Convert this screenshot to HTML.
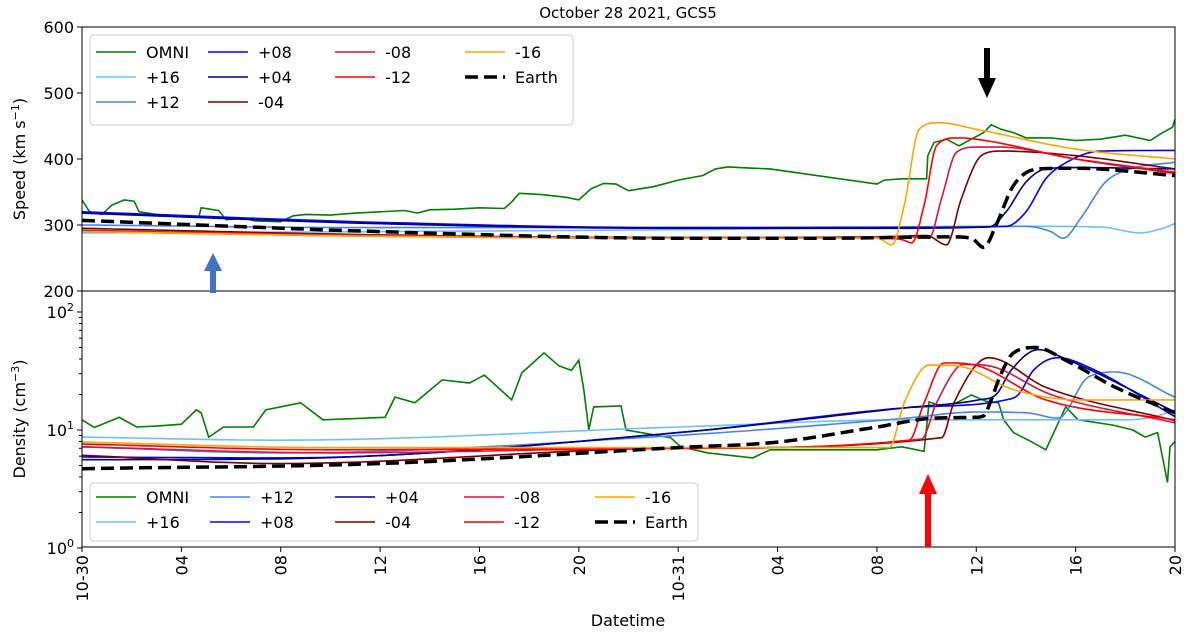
<!DOCTYPE html>
<html><head><meta charset="utf-8"><style>
body{margin:0;background:#fff;}
svg{display:block;font-family:"DejaVu Sans","Liberation Sans",sans-serif;}
</style></head><body>
<svg id="c" width="1200" height="641" viewBox="0 0 1200 641"></svg>
<script>
// ---- data: hours since 10-30 00:00 ----
const xTickHours=[0,4,8,12,16,20,24,28,32,36,40,44];
const xTickLabels=["10-30","04","08","12","16","20","10-31","04","08","12","16","20"];
const spdTicks=[200,300,400,500,600];
const denTicks=[0,1,2];
const seriesNames=["OMNI","+16","+12","+08","+04","-04","-08","-12","-16","Earth"];
// speed
const spd_t_omni=[0,0.3,0.8,1.2,1.7,2.1,2.3,3,4,4.7,4.8,5.5,5.8,6.5,7,8,8.5,9,10,11,12,13,13.5,14,15,16,17,17.3,17.6,18.5,19.5,20,20.5,21,21.5,22,22.5,23,24,25,25.5,26,27,27.7,32,32.3,33,34,34.05,34.3,34.8,35.3,35.8,36.3,36.6,37,37.5,38,39,40,41,42,43,43.5,43.9,44];
const spd_v_omni=[338,320,316,330,338,336,320,316,313,312,326,322,308,310,306,305,314,316,315,318,320,322,318,323,324,326,325,335,348,346,342,338,355,363,362,352,355,358,368,375,385,388,386,385,362,368,370,370,405,425,430,420,430,440,452,445,440,432,432,428,430,436,428,440,448,460];
const spd_t_earth=[0,12,24,30,35,35.8,36.3,36.8,37.5,38.5,40,44];
const spd_v_earth=[307,290,280,280,282,280,266,300,360,385,386,375];
const spd_t_m16=[0,12,24,32,32.6,33.1,33.7,34.5,36,40,44];
const spd_v_m16=[290,283,280,280,270,330,445,455,445,415,400];
const spd_t_m12=[0,12,24,32,33,33.4,33.9,34.4,35.2,36,40,44];
const spd_v_m12=[290,283,280,280,278,273,330,420,432,430,400,378];
const spd_t_m08=[0,12,24,32,33.5,34.1,34.6,35.2,36,37,40,44];
const spd_v_m08=[292,284,281,281,282,280,340,410,418,418,400,380];
const spd_t_m04=[0,12,24,32,34,34.8,35.4,36.2,37,40,44];
const spd_v_m04=[295,285,281,282,284,270,340,405,412,405,385];
const spd_t_p04=[0,12,24,32,36.5,37.2,38,38.8,40,44];
const spd_v_p04=[318,302,295,295,297,320,365,385,387,385];
const spd_t_p08=[0,12,24,32,37.2,38,38.8,39.5,41,44];
const spd_v_p08=[320,304,296,296,298,320,370,392,412,413];
const spd_t_p12=[0,12,24,32,38,39,39.5,40.2,41.2,42.2,44];
const spd_v_p12=[300,296,296,297,298,290,280,310,365,385,395];
const spd_t_p16=[0,12,24,32,38,41,42.6,43.5,44];
const spd_v_p16=[288,290,293,296,298,297,288,295,302];
// density
const den_t_omni=[0,0.5,1.5,2.2,3,4,4.6,4.8,5.1,5.7,6.9,7.4,8.8,9.7,11,12.2,12.6,13.4,14.5,15.6,16.2,17.3,17.7,18.6,19.2,19.7,20,20.2,20.4,20.6,21.7,21.9,22.5,23.7,24.1,25.2,27,27.7,32,33,33.9,34.1,34.6,35.2,35.8,36.4,36.9,37.1,37.5,38.2,38.8,39.6,40.1,41.5,42.3,42.8,43.3,43.7,43.8,44];
const den_v_omni=[12.2,10.5,12.8,10.6,10.8,11.2,14.8,14,8.7,10.6,10.6,14.8,17,12.2,12.5,12.8,19,17,26.6,25,29.2,18,30.4,45,35,32,39,22,10,15.7,16,10,9.5,8.6,7.2,6.4,5.8,6.8,6.8,7.2,6.6,17.3,16,17,19.8,17.5,17,12.2,9.5,8,6.8,15.7,12.2,11,10,8.7,9.5,3.6,7.2,8];
const den_t_earth=[0,12,24,28,32,34.3,35.9,36.3,36.6,37,37.5,38.4,39.6,41.6,44];
const den_v_earth=[4.7,5.2,7.1,7.9,10.6,12.6,12.8,13.2,18,30,45,50,39,23,14];
const den_t_m16=[0,10,24,32.5,33.1,34.1,35.2,37.5,40.1,44];
const den_v_m16=[7.9,7.1,7.1,7.1,17,35.5,35,22,18,18];
const den_t_m12=[0,10,24,33.3,33.9,34.7,35.8,38.8,44];
const den_v_m12=[7.6,6.8,7,8.2,17,37,36,18,12.2];
const den_t_m08=[0,10,24,33.8,34.4,35.5,36.5,39,44];
const den_v_m08=[7.2,6.4,7,8.4,17,36,35,20,11.5];
const den_t_m04=[0,8,24,34.6,35.1,36.5,38.8,44];
const den_v_m04=[6.1,5.2,7,8.6,17,41,23,12];
const den_t_p04=[0,8,24,33.1,36.1,36.8,37.4,38.5,39.6,44];
const den_v_p04=[5.6,5.7,9.5,15.4,18,20,32,48,40,14.2];
const den_t_p08=[0,8,24,33.1,37.2,37.7,38.3,39.3,40.4,44];
const den_v_p08=[5.9,5.8,9.5,15.4,18,20,32,41,35,13];
const den_t_p12=[0,8,24,33,36,38,39.3,40.5,41.6,44];
const den_v_p12=[7.2,6.4,9,12.5,14.2,14,12.6,28,31,19];
const den_t_p16=[0,8,24,33.3,42,43.2,44];
const den_v_p16=[8.7,8.2,10.6,12.2,12.2,13,14.8];

// ---- layout ----
const L=82,R=1175,T1=27,B1=291,T2=291,B2=547;
const X=h=>L+(R-L)*h/44;
const YS=v=>B1-(v-200)*(B1-T1)/400;
const YD=n=>T2+21+(2-Math.log10(n))*118;
const svg=document.getElementById('c');
const NS="http://www.w3.org/2000/svg";
function mk(tag,attrs,parent){const e=document.createElementNS(NS,tag);for(const k in attrs)e.setAttribute(k,attrs[k]);(parent||svg).appendChild(e);return e;}
function txt(s,x,y,attrs,parent){const e=mk('text',Object.assign({x:x,y:y,'font-size':16,fill:'#000'},attrs||{}),parent);e.textContent=s;return e;}
// monotone cubic sampling
function smooth(ts,vs,fy){
  const n=ts.length,d=[],m=[];
  for(let i=0;i<n-1;i++)d.push((vs[i+1]-vs[i])/(ts[i+1]-ts[i]));
  m[0]=d[0];m[n-1]=d[n-2];
  for(let i=1;i<n-1;i++){m[i]=(d[i-1]*d[i]<=0)?0:(d[i-1]+d[i])/2;}
  for(let i=0;i<n-1;i++){if(d[i]===0){m[i]=0;m[i+1]=0;continue;}const a=m[i]/d[i],b=m[i+1]/d[i],s=a*a+b*b;if(s>9){const t=3/Math.sqrt(s);m[i]=t*a*d[i];m[i+1]=t*b*d[i];}}
  let p="";
  for(let i=0;i<n-1;i++){const h=ts[i+1]-ts[i];for(let k=0;k<=20;k++){if(i>0&&k===0)continue;const s=k/20,s2=s*s,s3=s2*s;
    const v=(2*s3-3*s2+1)*vs[i]+(s3-2*s2+s)*h*m[i]+(-2*s3+3*s2)*vs[i+1]+(s3-s2)*h*m[i+1];
    const t=ts[i]+s*h;p+=(p?"L":"M")+X(t).toFixed(1)+","+fy(v).toFixed(1);}}
  return p;
}
function poly(ts,vs,fy){return ts.map((t,i)=>(i?"L":"M")+X(t).toFixed(1)+","+fy(vs[i]).toFixed(1)).join("");}
const colors={"OMNI":"#007f00","+16":"#6ec1ff","+12":"#4684f0","+08":"#0000ff","+04":"#00008b","-04":"#7a0000","-08":"#dc143c","-12":"#ff0000","-16":"#ffa500","Earth":"#000"};

// clip paths
const defs=mk('defs',{});
const c1=mk('clipPath',{id:'cp1'},defs);mk('rect',{x:L,y:T1,width:R-L,height:B1-T1},c1);
const c2=mk('clipPath',{id:'cp2'},defs);mk('rect',{x:L,y:T2,width:R-L,height:B2-T2},c2);

// title
const ttl=txt("October 28 2021, GCS5",628,18,{'text-anchor':'middle','font-size':15});


// ----- speed panel -----
const g1=mk('g',{'clip-path':'url(#cp1)'});

const spdSeries=[["+16",spd_t_p16,spd_v_p16],["+12",spd_t_p12,spd_v_p12],["+08",spd_t_p08,spd_v_p08],["+04",spd_t_p04,spd_v_p04],["-04",spd_t_m04,spd_v_m04],["-08",spd_t_m08,spd_v_m08],["-12",spd_t_m12,spd_v_m12],["-16",spd_t_m16,spd_v_m16]];
let o=mk('path',{d:poly(spd_t_omni,spd_v_omni,YS),fill:'none',stroke:colors.OMNI,'stroke-width':1.6},g1);

spdSeries.forEach(s=>{const e=mk('path',{d:smooth(s[1],s[2],YS),fill:'none',stroke:colors[s[0]],'stroke-width':1.6},g1);
  });
let ea=mk('path',{d:smooth(spd_t_earth,spd_v_earth,YS),fill:'none',stroke:'#000','stroke-width':3.5,'stroke-dasharray':'13,6'},g1);


// ----- density panel -----
const g2=mk('g',{'clip-path':'url(#cp2)'});

const denSeries=[["+16",den_t_p16,den_v_p16],["+12",den_t_p12,den_v_p12],["+08",den_t_p08,den_v_p08],["+04",den_t_p04,den_v_p04],["-04",den_t_m04,den_v_m04],["-08",den_t_m08,den_v_m08],["-12",den_t_m12,den_v_m12],["-16",den_t_m16,den_v_m16]];
o=mk('path',{d:poly(den_t_omni,den_v_omni,YD),fill:'none',stroke:colors.OMNI,'stroke-width':1.6},g2);

denSeries.forEach(s=>{const e=mk('path',{d:smooth(s[1],s[2].map(Math.log10),v=>YD(Math.pow(10,v))),fill:'none',stroke:colors[s[0]],'stroke-width':1.6},g2);
  });
ea=mk('path',{d:smooth(den_t_earth,den_v_earth.map(Math.log10),v=>YD(Math.pow(10,v))),fill:'none',stroke:'#000','stroke-width':3.5,'stroke-dasharray':'13,6'},g2);


// frames
let f=mk('rect',{x:L,y:T1,width:R-L,height:B1-T1,fill:'none',stroke:'#000','stroke-width':1});

f=mk('rect',{x:L,y:T2,width:R-L,height:B2-T2,fill:'none',stroke:'#000','stroke-width':1});


// speed y ticks
spdTicks.forEach(v=>{const y=YS(v);mk('line',{x1:L-5,x2:L,y1:y,y2:y,stroke:'#000'});
  const t=txt(String(v),L-8,y+6,{'text-anchor':'end'});});
// density y ticks
denTicks.forEach(p=>{const y=YD(Math.pow(10,p));mk('line',{x1:L-5,x2:L,y1:y,y2:y,stroke:'#000'});
  const t=mk('text',{x:L-8,y:y+6,'font-size':16,'text-anchor':'end'});
  
  t.appendChild(document.createTextNode('10'));const s=mk('tspan',{'font-size':11,dy:-7},t);s.textContent=String(p);
  if(p<2)for(let k=2;k<10;k++){const yy=YD(k*Math.pow(10,p));mk('line',{x1:L-3,x2:L,y1:yy,y2:yy,stroke:'#000'});}
});
// x ticks
xTickHours.forEach((h,i)=>{const x=X(h);mk('line',{x1:x,x2:x,y1:B2,y2:B2+5,stroke:'#000'});
  const t=txt(xTickLabels[i],x+6,B2+8,{'text-anchor':'end',transform:`rotate(-90 ${x+6} ${B2+8})`});
  });

// axis titles
let a=txt("",25,159,{'text-anchor':'middle',transform:'rotate(-90 25 159)'});

a.appendChild(document.createTextNode('Speed (km s'));let sp=mk('tspan',{'font-size':11,dy:-6},a);sp.textContent='−1';let sp2=mk('tspan',{dy:6},a);sp2.textContent=')';
a=txt("",25,419,{'text-anchor':'middle',transform:'rotate(-90 25 419)'});

a.appendChild(document.createTextNode('Density (cm'));sp=mk('tspan',{'font-size':11,dy:-6},a);sp.textContent='−3';sp2=mk('tspan',{dy:6},a);sp2.textContent=')';
a=txt("Datetime",628,626,{'text-anchor':'middle'});


// legends
function legend(x,y,w,h,items,name){
  const g=mk('g',{});
  mk('rect',{x:x,y:y,width:w,height:h,rx:4,fill:'#fff','fill-opacity':0.85,stroke:'#ccc'},g);
  items.forEach(it=>{const nm=it[0];const dash=nm==='Earth';
    const ln=mk('line',{x1:it[1],x2:it[1]+40,y1:it[2],y2:it[2],stroke:colors[nm],'stroke-width':dash?3.5:1.6,'stroke-dasharray':dash?'13,6':'none'},g);
    
    const t=txt(nm,it[1]+50,it[2]+6,{},g);});
}
legend(90,35,483,90,[["OMNI",96,52],["+16",96,77],["+12",96,102],["+08",208,52],["+04",208,77],["-04",208,102],["-08",335,52],["-12",335,77],["-16",465,52],["Earth",465,77]],'speed-legend');
legend(90,483,608,58,[["OMNI",96,497],["+16",96,522],["+12",210,497],["+08",210,522],["+04",335,497],["-04",335,522],["-08",464,497],["-12",464,522],["-16",595,497],["Earth",595,522]],'density-legend');

// arrows
function arrow(x,y1,y2,col,w,hw,hl,name){const g=mk('g',{});
  const dir=y2<y1?-1:1;const yb=y2-dir*hl;
  mk('rect',{x:x-w/2,y:Math.min(y1,yb),width:w,height:Math.abs(yb-y1),fill:col},g);
  mk('polygon',{points:`${x-hw},${yb} ${x+hw},${yb} ${x},${y2}`,fill:col},g);}
arrow(213,293,253,'#4472c4',6,9,18,'blue-arrow');
arrow(987,48,98,'#000',6,9,20,'black-arrow');
arrow(928,547,474,'#ff0000',6,9,20,'red-arrow');
</script>
</body></html>
